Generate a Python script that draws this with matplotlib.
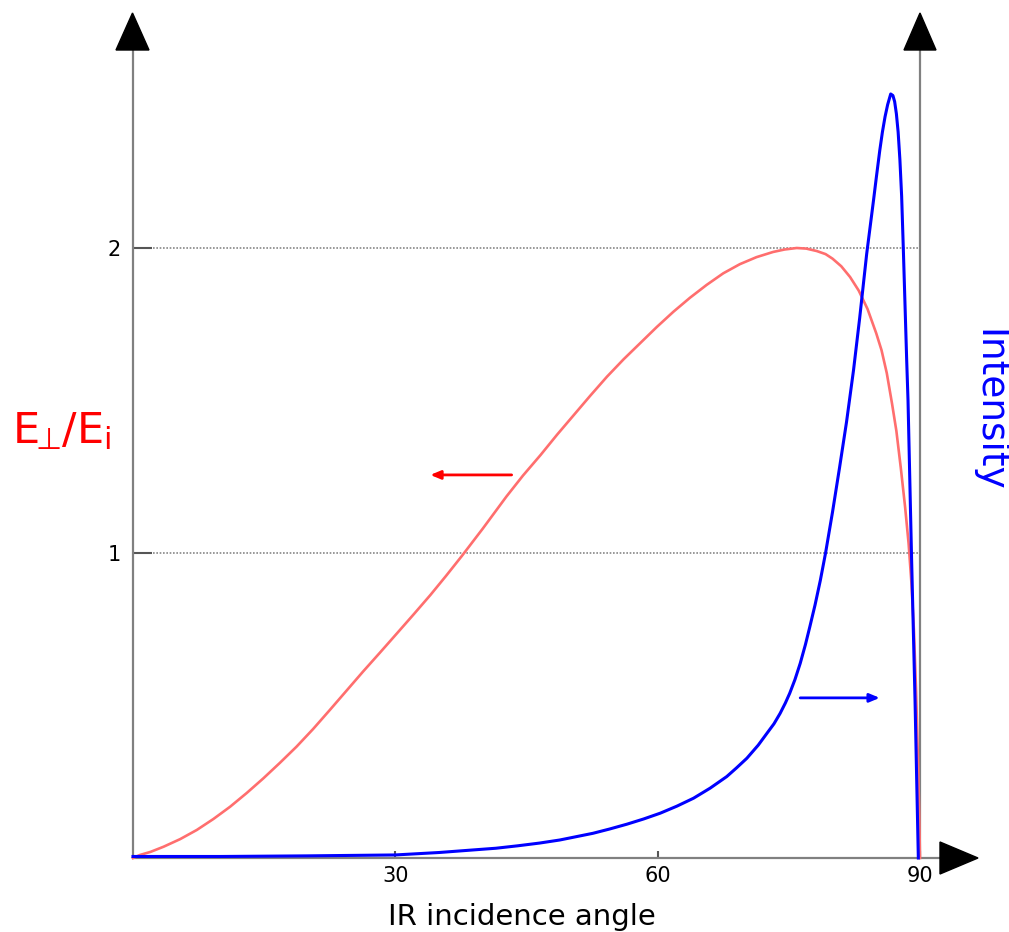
import matplotlib
matplotlib.use("Agg")
import matplotlib.pyplot as plt
from matplotlib.patches import Polygon

# E_perp / E_i against angle (left scale)
angle_e = [0, 0.8, 2, 3.5, 5.4, 7.3, 9.2, 11.1, 13, 14.9, 16.8, 18.7, 20.6,
           22.5, 24.4, 26.3, 28.2, 30.2, 32.1, 34.0, 35.8, 37.6, 40, 42.7,
           44.6, 46.6, 48.5, 50.4, 52.3, 54.2, 56.1, 58.0, 59.9, 61.8, 63.7,
           65.6, 67.5, 69.4, 71.3, 73.2, 74.5, 75.9, 77, 78.2, 79.2, 80, 81,
           82, 83, 84, 85, 85.6, 86.2, 86.8, 87.3, 87.8, 88.3, 88.7, 89.0,
           89.3, 89.55, 89.75, 89.9, 90]
e_ratio = [0, 0.01, 0.02, 0.037, 0.062, 0.092, 0.128, 0.168, 0.213, 0.261,
           0.312, 0.365, 0.423, 0.485, 0.548, 0.611, 0.672, 0.737, 0.799,
           0.862, 0.925, 0.99, 1.08, 1.185, 1.254, 1.321, 1.388, 1.452, 1.516,
           1.578, 1.635, 1.688, 1.741, 1.791, 1.837, 1.879, 1.917, 1.947,
           1.970, 1.987, 1.995, 2.0, 1.998, 1.99, 1.98, 1.965, 1.94, 1.905,
           1.86, 1.80, 1.72, 1.665, 1.59, 1.49, 1.40, 1.28, 1.15, 1.03, 0.91,
           0.75, 0.55, 0.34, 0.16, 0]

# intensity (right scale, arbitrary units)
angle_i = [0, 10, 20, 30, 35, 38.7, 41.5, 44, 46.5, 48.8, 50.7, 52.6, 54.5,
           56.5, 58.4, 60.3, 62.2, 64.1, 66, 67.9, 69, 70.2, 71.5, 72.5, 73.3,
           74.0, 74.6, 75.1, 75.7, 76.3, 76.9, 77.4, 78.0, 78.6, 79.2, 80.0,
           80.8, 81.6, 82.4, 83.1, 83.9, 84.7, 85.0, 85.4, 85.7, 86.0, 86.3,
           86.65, 86.9, 87.1, 87.3, 87.5, 87.7, 87.9, 88.09, 88.48, 88.63,
           89.03, 89.43, 89.63, 89.81]
intensity = [0.005, 0.005, 0.007, 0.01, 0.018, 0.026, 0.032, 0.04, 0.049,
             0.059, 0.07, 0.081, 0.095, 0.111, 0.128, 0.147, 0.17, 0.196,
             0.229, 0.267, 0.295, 0.327, 0.37, 0.409, 0.44, 0.474, 0.508, 0.54,
             0.585, 0.638, 0.70, 0.758, 0.83, 0.91, 1.0, 1.135, 1.28, 1.43,
             1.60, 1.77, 1.98, 2.16, 2.23, 2.32, 2.38, 2.43, 2.47, 2.505, 2.50,
             2.48, 2.44, 2.38, 2.29, 2.17, 2.0, 1.63, 1.50, 0.99, 0.52, 0.245,
             0]

x_ticks = [30, 60, 90]
y_ticks = [1, 2]

# direction arrows (tail, tip) in data units
red_arrow = [(43.3, 1.256), (34.0, 1.256)]
blue_arrow = [(76.3, 0.525), (85.4, 0.525)]

W, H = 1009, 932
GRAY = "#808080"

fig = plt.figure(figsize=(W / 100, H / 100), dpi=100)
ax = fig.add_axes([133 / W, (H - 858) / H, (940 - 133) / W, (858 - 50) / H])
ax.set_xlim(0, 90 * (940 - 133) / (920 - 133))
ax.set_ylim(0, (858 - 50) / 305)

ax2 = ax.twinx()
ax2.set_ylim(ax.get_ylim())
ax2.set_yticks([])
for s in ax2.spines.values():
    s.set_visible(False)

for s in ["top", "right"]:
    ax.spines[s].set_visible(False)
for s in ["left", "bottom"]:
    ax.spines[s].set_color(GRAY)
    ax.spines[s].set_linewidth(1.6)
ax.axvline(90, color=GRAY, lw=1.6, zorder=1)

ax.hlines(y_ticks, 0, 90, colors="#888888", linestyles=(0, (1, 1)), lw=1.2, zorder=1)

ax.set_xticks(x_ticks)
ax.set_yticks(y_ticks)
ax.tick_params(axis="y", direction="in", length=14, width=1.5, color="#555555",
               pad=9, labelsize=15)
ax.tick_params(axis="x", direction="in", length=5, width=1.5, color="#555555",
               pad=6, labelsize=15)

ax.plot(angle_e, e_ratio, color="#ff6e6e", lw=1.9, zorder=3, clip_on=False,
        solid_joinstyle="round")
ax2.plot(angle_i, intensity, color="#0000ff", lw=2.2, zorder=4, clip_on=False,
         solid_joinstyle="round")

for arr, col in [(red_arrow, "#ff0000"), (blue_arrow, "#0000ff")]:
    ax.annotate("", xy=arr[1], xytext=arr[0],
                arrowprops=dict(arrowstyle="-|>,head_length=0.6,head_width=0.25",
                                color=col, lw=2, shrinkA=0, shrinkB=0))

# arrow heads on the axes
def tri(pts):
    fig.add_artist(Polygon([(x / W, 1 - y / H) for x, y in pts], closed=True,
                           color="black", transform=fig.transFigure))

tri([(132.5, 13), (116, 50), (149, 50)])
tri([(920, 13), (904, 50), (936, 50)])
tri([(978, 858), (940, 842), (940, 874)])

fig.text(522 / W, 1 - 925 / H, "IR incidence angle", ha="center",
         va="baseline", fontsize=21)
fig.text(12 / W, 1 - 443 / H, r"E$_{\!\!\bot}\!$/E$_{\mathrm{i}}$",
         ha="left", va="baseline", fontsize=31, color="red")
fig.text(988 / W, 1 - 410 / H, "Intensity", rotation=-90, ha="center",
         va="center", fontsize=27, color="blue")

fig.savefig("out.png", dpi=100)
